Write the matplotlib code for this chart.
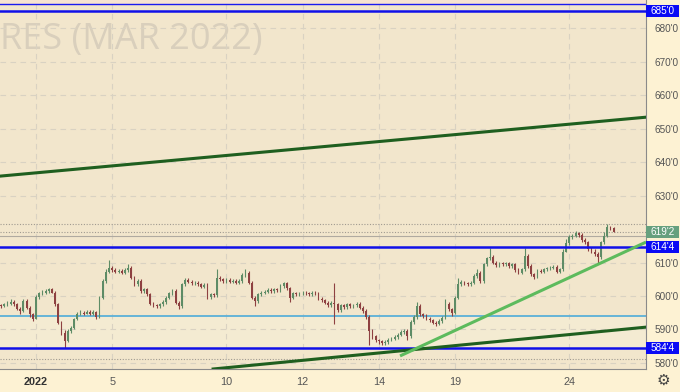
import matplotlib
matplotlib.use("Agg")
import matplotlib.pyplot as plt
import matplotlib.transforms as mtransforms
from matplotlib.patches import Rectangle
import numpy as np

# session labels on the time axis (bar index where the session starts)
day_labels = ["2022", "5", "10", "12", "14", "19", "24"]
day_starts = [12, 36, 72, 96, 120, 144, 180]

first_open = 597.0
closes = [
    597.25, 597.0, 597.5, 597.75, 598.25, 597.5, 596.25, 595.5, 598.5, 596.5, 594.5, 593.25,
    599.75, 600.75, 601.0, 601.5, 602.0, 601.0, 597.5, 592.0, 589.0, 586.5, 589.5, 590.5,
    593.0, 594.75, 595.0, 594.75, 595.25, 594.75, 595.25, 593.75, 599.5, 604.5, 607.25, 608.5,
    607.75, 607.25, 607.5, 607.0, 607.75, 608.5, 605.5, 603.5, 604.5, 601.5, 602.0, 600.5,
    597.75, 597.25, 597.0, 597.5, 598.25, 599.5, 600.75, 601.5, 598.0, 597.0, 603.5, 604.75,
    604.25, 603.75, 604.0, 603.5, 602.75, 603.25, 599.75, 600.5, 600.25, 605.5, 605.0, 604.5,
    604.75, 604.25, 604.5, 604.0, 604.5, 606.25, 607.0, 604.0, 599.5, 598.5, 600.5, 601.0,
    601.25, 601.75, 601.5, 602.0, 601.75, 603.0, 603.75, 602.25, 599.5, 600.75, 600.5, 600.75,
    601.0, 600.75, 600.5, 601.0, 600.75, 599.25, 598.75, 598.0, 597.25, 598.0, 597.5, 595.75,
    597.25, 596.75, 597.5, 597.0, 597.25, 597.75, 596.5, 595.5, 593.75, 589.5, 588.0, 586.75,
    586.5, 586.0, 586.25, 587.0, 587.25, 587.75, 588.5, 589.25, 589.5, 588.0, 592.25, 593.75,
    597.0, 594.5, 594.0, 593.25, 592.75, 592.0, 591.75, 592.5, 593.5, 597.75, 596.0, 595.0,
    599.5, 603.5, 604.25, 603.75, 603.5, 604.0, 606.0, 607.0, 604.5, 609.5, 611.25, 611.75,
    610.0, 609.25, 609.75, 609.5, 609.75, 609.0, 609.5, 607.75, 607.0, 608.0, 612.0, 609.0,
    606.5, 605.75, 607.5, 607.25, 608.0, 608.25, 608.5, 608.75, 607.25, 608.0, 613.25, 615.75,
    617.5, 618.0, 618.75, 618.25, 616.75, 616.0, 614.0, 613.25, 612.5, 611.5, 616.0, 618.0,
    620.5, 620.25, 619.25,
]
highs = [
    598.0, 597.75, 598.0, 598.5, 599.0, 598.75, 598.0, 596.75, 599.25, 599.0, 597.0, 595.0,
    600.25, 601.25, 601.75, 602.0, 602.5, 602.5, 601.5, 598.0, 592.5, 589.75, 590.0, 591.0,
    593.5, 595.25, 595.75, 595.5, 595.75, 595.75, 595.75, 595.5, 600.0, 605.0, 608.0, 610.75,
    609.0, 608.25, 608.0, 608.0, 608.25, 609.5, 609.0, 606.0, 605.0, 605.0, 602.5, 602.5,
    601.0, 598.25, 597.75, 598.0, 598.75, 600.0, 601.25, 602.0, 602.0, 598.5, 604.0, 605.5,
    605.25, 604.75, 604.5, 604.5, 604.0, 603.75, 603.75, 601.0, 601.0, 608.0, 606.0, 605.5,
    605.25, 605.25, 605.0, 605.0, 605.0, 606.75, 608.0, 607.5, 604.5, 600.0, 601.0, 601.5,
    601.75, 602.25, 602.25, 602.5, 602.5, 603.5, 604.25, 604.25, 602.75, 601.25, 601.25, 601.25,
    601.5, 601.5, 601.25, 601.5, 601.5, 601.25, 599.75, 599.25, 598.5, 598.5, 604.0, 598.0,
    597.75, 597.75, 598.0, 598.0, 597.75, 598.25, 598.25, 597.0, 596.0, 594.25, 590.0, 588.5,
    587.25, 587.0, 586.75, 587.5, 587.75, 588.25, 589.0, 589.75, 590.0, 590.0, 592.75, 594.25,
    598.25, 597.5, 595.0, 594.5, 593.75, 593.25, 592.5, 593.0, 594.0, 599.0, 598.25, 596.5,
    600.0, 605.5, 604.75, 604.5, 604.25, 604.5, 606.5, 608.0, 607.5, 610.0, 611.75, 614.25,
    612.25, 610.5, 610.25, 610.25, 610.25, 610.25, 610.0, 610.0, 608.25, 608.5, 614.25, 612.5,
    609.5, 607.0, 608.0, 608.0, 608.5, 608.75, 609.0, 609.25, 609.25, 608.5, 614.0, 617.0,
    618.25, 618.5, 619.5, 619.25, 618.75, 617.25, 616.5, 614.5, 614.0, 613.0, 616.5, 619.0,
    621.5, 621.0, 620.75,
]
lows = [
    596.5, 596.5, 596.75, 597.0, 597.25, 597.0, 595.75, 594.75, 595.25, 596.0, 593.75, 592.5,
    593.0, 599.25, 600.25, 600.5, 601.0, 600.75, 597.0, 591.5, 588.5, 584.5, 586.25, 589.0,
    590.25, 592.75, 594.25, 594.25, 594.5, 594.25, 594.25, 593.25, 593.5, 599.0, 604.0, 606.75,
    607.25, 606.75, 606.75, 606.5, 606.5, 607.25, 605.0, 603.0, 603.0, 601.0, 601.0, 600.0,
    597.25, 596.75, 596.5, 596.5, 597.0, 597.75, 599.0, 600.25, 597.5, 596.25, 596.5, 603.0,
    603.75, 603.25, 603.25, 603.0, 602.25, 602.25, 599.25, 599.25, 599.75, 599.75, 604.5, 604.0,
    604.0, 603.75, 603.75, 603.5, 603.5, 604.0, 605.75, 603.5, 599.0, 597.0, 598.0, 600.0,
    600.5, 600.75, 601.0, 601.0, 601.25, 601.25, 602.5, 601.75, 598.25, 599.0, 600.0, 600.0,
    600.25, 600.25, 600.0, 600.0, 600.25, 598.75, 598.25, 597.5, 596.75, 596.75, 591.5, 595.25,
    595.25, 596.25, 596.25, 596.5, 596.5, 596.75, 596.0, 595.0, 593.25, 585.5, 587.25, 586.25,
    585.75, 585.5, 585.5, 585.75, 586.5, 586.75, 587.25, 588.0, 588.75, 586.75, 587.5, 591.75,
    593.25, 594.0, 593.5, 592.75, 592.25, 591.5, 591.0, 591.25, 592.0, 593.0, 595.5, 594.0,
    594.5, 599.0, 603.0, 603.25, 603.0, 603.0, 603.5, 605.5, 604.0, 604.0, 609.0, 610.75,
    609.5, 608.75, 608.75, 609.0, 609.0, 608.5, 608.5, 607.25, 606.5, 606.5, 607.5, 608.5,
    606.0, 605.0, 605.25, 606.75, 606.75, 607.5, 607.75, 608.0, 606.75, 606.75, 607.5, 613.0,
    615.25, 617.0, 617.5, 617.75, 616.25, 615.5, 613.5, 612.75, 612.0, 610.0, 611.0, 615.5,
    617.5, 619.75, 619.0,
]

# drawn levels and trend lines (bar index, price)
blue_levels = [685.0, 614.5, 584.5]
blue_labels = ["685'0", "614'4", "584'4"]
top_thin_level = 687.2
cyan_level = 594.0
dotted_levels = [621.5, 619.25, 581.25]
last_price = 619.25
last_label = "619'2"
upper_trend = [(0.65, 635.8), (204.2, 653.4)]
lower_trend = [(67.8, 578.2), (204.2, 590.7)]
light_trend = [(126.7, 582.1), (204.2, 616.1)]

price_ticks = [580, 590, 600, 610, 630, 640, 650, 660, 670, 680]

W, H = 680, 392
fig = plt.figure(figsize=(W / 100, H / 100), dpi=100, facecolor="#FDF2D3")
ax = fig.add_axes([0, 23 / H, 646 / W, 369 / H])
ax.set_facecolor("#F2E6CC")
ax.set_xlim(0.65, 204.2)
ax.set_ylim(578.2, 688.4)

# watermark (only its right part is visible in the chart)
ax.text(0.5 / 646, 1 - 40 / 369, "RES (MAR 2022)", transform=ax.transAxes,
        ha="left", va="center", fontsize=26, family="Open Sans",
        color="#D9CFBC", zorder=0.5)

# grid
for v in price_ticks:
    ax.axhline(v, color="#D9D2C2", lw=0.8, ls=(0, (5, 4)), zorder=0.6)
for d in day_starts:
    ax.axvline(d, color="#D9D2C2", lw=0.8, ls=(0, (5, 4)), zorder=0.6)

ax.axhspan(top_thin_level, 688.4, color="#F7E3D0", zorder=0.4, lw=0)
ax.axhspan(584.5, cyan_level, color="#F4EBD2", zorder=0.4, lw=0)

# candles
c = np.array(closes)
o = np.r_[first_open, c[:-1]]
h = np.maximum(np.array(highs), np.maximum(o, c))
l = np.minimum(np.array(lows), np.minimum(o, c))
idx = np.arange(len(c))
cols = np.where(c >= o, "#5E8C66", "#8E4141")
ax.vlines(idx, l, h, colors=cols, lw=0.8, zorder=3)
body = np.maximum(np.abs(c - o), 0.25)
ax.bar(idx, body, bottom=np.minimum(o, c), width=0.55, color=cols, zorder=3)

# levels
for lv in dotted_levels:
    ax.axhline(lv, color="#A09A90", lw=0.8, ls=(0, (1, 1.5)), zorder=2)
ax.axhline(618.0, color="#B0AAA0", lw=0.8, zorder=2)
ax.axhline(cyan_level, color="#5BB0D8", lw=1.3, zorder=2)
ax.axhline(top_thin_level, color="#1A1AF0", lw=1.0, zorder=2)
for lv in blue_levels:
    ax.axhline(lv, color="#1010E8", lw=1.8, zorder=4)

ax.axline(upper_trend[0], upper_trend[1], color="#1F5F1F", lw=2.2, zorder=4)
ax.axline(lower_trend[0], lower_trend[1], color="#1F5F1F", lw=2.2, zorder=4)
ax.plot([p[0] for p in light_trend], [p[1] for p in light_trend],
        color="#5DBB5D", lw=2.2, zorder=4, solid_capstyle="butt")

# axes frame
for s in ["top", "left"]:
    ax.spines[s].set_visible(False)
ax.spines["right"].set_color("#8A8A8A")
ax.spines["bottom"].set_color("#8A8A8A")
ax.spines["right"].set_linewidth(0.8)
ax.spines["bottom"].set_linewidth(0.8)

ax.yaxis.tick_right()
ax.set_yticks(price_ticks)
ax.set_yticklabels([f"{v}'0" for v in price_ticks])
ax.tick_params(axis="y", length=0, pad=6, labelsize=7.2, labelcolor="#555555")
for t in ax.get_yticklabels():
    t.set_family("Liberation Sans")

ax.set_xticks(day_starts)
ax.set_xticklabels(day_labels)
ax.tick_params(axis="x", length=0, pad=6, labelsize=7.8, labelcolor="#555555")
for t in ax.get_xticklabels():
    t.set_family("Liberation Sans")
ax.get_xticklabels()[0].set_color("#333333")
ax.get_xticklabels()[0].set_fontweight("bold")

# price label boxes on the scale
tr = mtransforms.blended_transform_factory(ax.transAxes, ax.transData)
box_h = 12 / 3.35
boxes = list(zip(blue_levels, blue_labels, ["#0A0AF5"] * 3)) + [(last_price, last_label, "#66A07E")]
for lv, lab, col in boxes:
    ax.add_patch(Rectangle((1.0, lv - box_h / 2), 33 / 646, box_h, transform=tr,
                           facecolor=col, edgecolor="none", clip_on=False, zorder=6))
    ax.text(1.0 + 16.5 / 646, lv, lab, transform=tr, ha="center", va="center",
            fontsize=7.2, color="white", family="Liberation Sans", clip_on=False, zorder=7)

fig.text(663 / W, 1 - 380 / H, "\u2699", ha="center", va="center", fontsize=11,
         color="#444444", family="DejaVu Sans")

fig.savefig("out.png", dpi=100, facecolor=fig.get_facecolor())
